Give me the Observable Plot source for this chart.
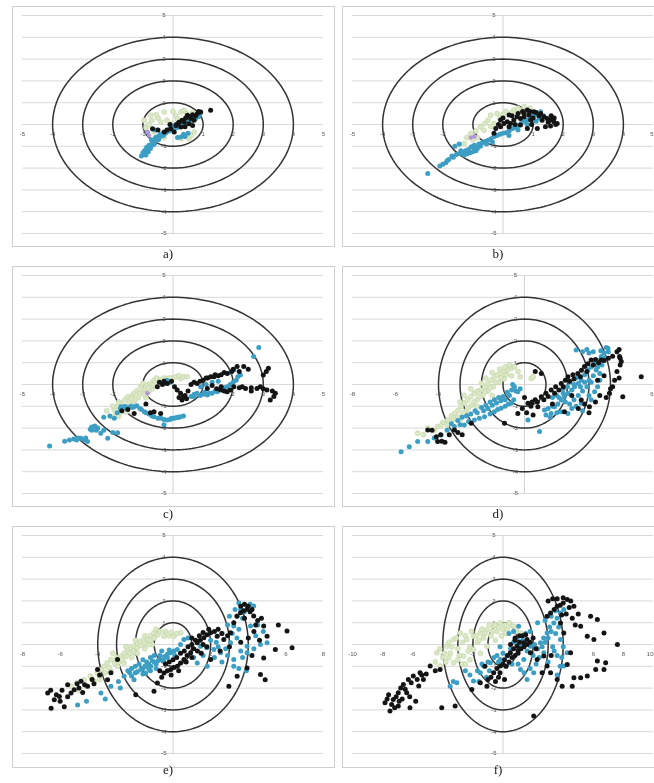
<!DOCTYPE html>
<html><head><meta charset="utf-8">
<script src="https://cdn.jsdelivr.net/npm/d3@7"></script>
<script src="https://cdn.jsdelivr.net/npm/@observablehq/plot@0.6"></script>
<style>
html,body{margin:0;padding:0;background:#fff;overflow:hidden}
#wrap{position:relative;width:654px;height:783px;overflow:hidden;background:#fff}
.panel{position:absolute;will-change:transform}
</style></head><body><div id="wrap"></div>
<script>
// ---------- data (in axis units) ----------
const captions = ["a)", "b)", "c)", "d)", "e)", "f)"];
const rings = [1, 2, 3, 4];
const yGrid = [5, 4, 3, 2, 1, 0, -1, -2, -3, -4, -5];
const yLabels = [5, 4, 3, 2, 1, -1, -2, -3, -4, -5];
const xLabels5 = [-5, -4, -3, -2, -1, 1, 2, 3, 4, 5];
const xLabelsD = [-8, -6, -4, -2, 2, 4, 6];
const xLabelsE = [-8, -6, -4, -2, 2, 4, 6, 8];
const xLabelsF = [-10, -8, -6, -4, -2, 2, 4, 6, 8, 10];

const aGreen = [[-0.96,0.19],[-0.74,0.42],[-0.29,0.57],[0.26,0.57],[0.37,0.65],[-0.02,0.04],[-0.63,-0.34],[0.26,-0.65],[0.53,-0.65],[0.7,-0.34],[-0.4,0.11],[-0.9,-0.15],[-0.5,0.3],[0.1,0.4],[-0.7,0.2],[-0.55,0.45],[-0.2,0.2],[0.15,0.25],[0.45,0.5],[0.6,-0.5],[-0.3,-0.6],[-0.8,0.0],[0.0,0.6],[0.65,0.55]];
const aTeal = [[-1.05,-1.45],[-0.98,-1.38],[-0.92,-1.3],[-0.95,-1.2],[-0.85,-1.15],[-0.88,-1.05],[-0.8,-0.95],[-0.75,-1.1],[-0.7,-0.9],[-0.65,-0.8],[-0.72,-0.7],[-0.6,-0.72],[-0.55,-0.65],[-0.5,-0.55],[-0.45,-0.6],[-0.4,-0.5],[-0.35,-0.42],[-0.3,-0.35],[-0.25,-0.4],[-0.2,-0.3],[-0.15,-0.25],[-0.1,-0.2],[-0.05,-0.15],[0.0,-0.1],[0.05,-0.05],[0.1,0.0],[0.15,-0.1],[0.2,0.05],[0.3,0.1],[0.35,0.05],[0.4,0.15],[0.5,0.2],[0.55,0.25],[0.6,0.3],[0.7,0.35],[0.8,0.45],[0.9,0.52],[0.26,-0.57],[0.35,-0.45],[0.15,-0.6],[-0.85,-0.35],[-0.6,-0.25],[-1.0,-1.3],[-0.9,-1.4],[-0.82,-1.25],[-0.78,-1.0],[-0.68,-0.95],[-0.62,-0.9],[-0.58,-0.6],[-0.48,-0.7],[-0.42,-0.45],[-0.32,-0.5],[-0.22,-0.35],[-0.12,-0.3],[0.0,-0.25],[0.12,-0.15],[0.25,-0.05],[0.45,0.05],[0.62,0.18],[0.75,0.28],[0.85,0.35],[0.4,-0.55],[0.5,-0.4]];
const aBlack = [[-0.68,-0.19],[-0.07,-0.19],[0.15,0.04],[0.26,-0.11],[0.37,0.11],[0.48,0.42],[0.59,0.27],[0.7,0.19],[0.81,0.5],[0.92,0.57],[1.25,0.65],[0.53,0.04],[0.65,-0.05],[0.04,-0.34],[-0.29,-0.34],[0.3,0.2],[0.42,0.3],[0.55,0.35],[0.65,0.45],[0.75,0.4],[0.85,0.6],[0.2,0.1],[0.1,-0.05],[-0.1,0.0],[0.4,-0.1],[-0.5,-0.25],[-0.2,-0.25]];
const aOther = [[-0.79,-0.5],[-0.85,-0.34]];

const bGreen = [[-1.07,-0.41],[-0.63,-0.26],[-0.41,0.43],[-0.3,0.05],[0.36,0.66],[0.7,0.81],[-0.85,-0.6],[-1.29,-0.87],[-0.5,0.2],[-0.2,0.5],[0.1,0.6],[0.5,0.75],[0.9,0.75],[-0.75,-0.1],[-1.0,-0.7],[-1.5,-0.95],[0.2,-0.3],[0.45,-0.1],[-0.6,0.05],[-0.4,-0.1],[-0.1,0.3],[0.0,0.45],[0.3,0.55],[-0.9,-0.3],[-1.2,-0.6],[0.6,0.55]];
const bTeal = [[-2.5,-2.25],[-2.1,-1.9],[-2.0,-1.82],[-1.9,-1.75],[-1.8,-1.6],[-1.65,-1.5],[-1.55,-1.38],[-1.45,-1.33],[-1.35,-1.3],[-1.3,-1.4],[-1.2,-1.35],[-1.1,-1.3],[-1.0,-1.25],[-0.9,-1.2],[-0.85,-1.1],[-1.05,-1.02],[-0.95,-0.95],[-0.8,-0.9],[-0.7,-0.85],[-0.6,-0.78],[-0.5,-0.72],[-0.4,-0.65],[-0.3,-0.55],[-0.2,-0.5],[-0.1,-0.45],[0.0,-0.4],[0.1,-0.38],[0.2,-0.3],[0.3,-0.2],[0.4,-0.15],[0.5,-0.05],[0.6,0.05],[0.7,0.15],[0.8,0.2],[0.9,0.3],[1.0,0.4],[1.1,0.45],[1.25,0.58],[-1.45,-0.9],[-1.6,-1.0],[-1.4,-1.2],[-1.25,-1.2],[-1.15,-1.15],[-0.95,-1.1],[-0.75,-1.0],[-1.7,-1.45],[-1.85,-1.65],[-0.55,-0.9],[-0.35,-0.8],[0.2,-0.5],[0.5,-0.25],[0.8,0.0],[1.1,0.15],[1.2,0.3],[1.35,0.4]];
const bBlack = [[-0.24,-0.18],[-0.08,-0.1],[0.03,0.05],[0.14,0.13],[0.25,0.05],[0.36,0.21],[0.47,0.36],[-0.08,0.21],[0.2,0.44],[0.58,0.28],[0.7,0.51],[0.81,0.67],[0.86,0.44],[0.92,0.21],[1.03,0.59],[1.25,0.51],[1.36,0.36],[1.47,0.28],[1.58,0.21],[1.69,0.13],[1.8,0.05],[1.58,-0.07],[1.41,-0.1],[1.14,-0.18],[0.81,-0.18],[0.58,-0.02],[-0.3,-0.4],[0.0,0.3],[0.3,0.4],[0.5,0.5],[0.65,0.6],[0.9,0.6],[1.1,0.55],[1.2,0.4],[1.3,0.2],[1.5,0.1],[1.7,0.3],[1.75,0.0],[1.6,0.4],[0.4,0.0],[0.2,-0.1],[0.95,0.0],[1.0,0.3],[0.7,0.35],[-0.15,0.0]];
const bOther = [[-1.07,-0.6],[-0.95,-0.55]];

const cGreen = [[-2.06,-1.48],[-1.95,-1.17],[-1.85,-1.0],[-1.73,-0.86],[-1.65,-1.1],[-1.6,-0.7],[-1.51,-0.56],[-1.45,-0.8],[-1.35,-0.5],[-1.29,-0.4],[-1.2,-0.3],[-1.15,-0.6],[-1.07,-0.1],[-1.0,-0.35],[-0.95,-0.2],[-0.85,-0.02],[-0.75,0.05],[-0.7,-0.2],[-0.63,0.2],[-0.5,0.15],[-0.4,0.22],[-0.3,0.3],[-0.19,0.28],[0.0,0.3],[0.1,0.35],[0.25,0.28],[0.35,0.35],[0.47,0.36],[-1.9,-1.35],[-1.8,-1.45],[-2.2,-1.2],[-1.55,-1.25],[-1.3,-0.9],[-0.9,-0.6],[-1.7,-1.25],[-1.5,-0.95],[-1.4,-0.65],[-1.25,-0.7],[-1.1,-0.4],[-0.95,-0.45],[-0.8,-0.3],[-0.65,-0.05],[-0.55,0.3],[-0.3,0.15],[-0.1,0.3],[0.2,0.4],[-2.0,-1.0],[-1.8,-0.8],[-1.0,0.05],[-0.45,0.0]];
const cTeal = [[-4.1,-2.82],[-3.6,-2.6],[-3.44,-2.55],[-3.3,-2.5],[-3.15,-2.45],[-3.06,-2.47],[-2.95,-2.55],[-2.84,-2.62],[-2.75,-2.05],[-2.7,-1.95],[-2.6,-1.9],[-2.5,-2.0],[-2.4,-2.24],[-2.3,-2.1],[-2.17,-2.47],[-2.0,-2.2],[-1.84,-2.21],[-2.3,-1.5],[-2.1,-1.45],[-1.95,-1.55],[-1.85,-1.3],[-1.73,-1.02],[-1.6,-1.0],[-1.5,-1.05],[-1.4,-1.0],[-1.29,-1.02],[-1.2,-0.98],[-1.1,-1.1],[-0.9,-1.3],[-0.8,-1.35],[-0.7,-1.45],[-0.63,-1.48],[-0.4,-1.55],[-0.3,-1.6],[-0.19,-1.63],[-0.1,-1.6],[0.03,-1.55],[0.1,-1.52],[0.2,-1.5],[0.25,-1.48],[0.35,-1.45],[-0.3,-1.85],[0.6,-0.55],[0.7,-0.45],[0.8,-0.4],[0.9,-0.5],[1.0,-0.45],[1.14,-0.48],[1.3,-0.4],[1.47,-0.33],[1.6,-0.2],[1.8,-0.1],[1.9,0.0],[2.0,0.1],[2.1,0.2],[2.24,0.44],[2.02,0.66],[0.92,-0.1],[1.1,0.0],[1.3,0.1],[1.5,0.15],[2.68,1.28],[2.85,1.7],[-0.3,0.05],[-0.1,0.1],[-0.2,0.2],[-2.7,-2.1],[-2.55,-2.1],[-2.9,-2.45],[-3.2,-2.55],[-1.75,-1.1],[-1.55,-1.1],[-1.35,-1.05],[-0.5,-1.55],[-0.05,-1.55],[0.15,-1.5],[0.7,-0.55],[1.05,-0.35],[1.2,-0.4],[1.4,-0.3],[1.7,-0.15],[2.15,0.35],[1.9,0.55],[-1.05,-1.15],[-0.95,-1.25]];
const cBlack = [[-1.29,-1.33],[-0.75,-1.3],[-0.63,-1.25],[-0.41,-1.33],[-0.52,-0.1],[-0.35,0.0],[-0.19,0.05],[-0.05,0.15],[0.05,-0.1],[0.14,-0.25],[0.25,-0.4],[0.3,-0.71],[0.2,-0.6],[0.4,-0.5],[0.5,-0.3],[0.6,0.0],[0.7,0.1],[0.8,0.05],[0.9,0.15],[1.0,0.2],[1.15,0.3],[1.25,0.35],[1.36,0.36],[1.5,0.4],[1.6,0.45],[1.8,0.51],[1.95,0.6],[2.13,0.82],[2.35,0.82],[2.2,0.6],[1.3,-0.05],[1.45,-0.2],[1.58,-0.25],[1.7,-0.3],[1.8,-0.33],[1.9,-0.25],[2.02,-0.1],[2.2,-0.15],[2.41,-0.18],[2.6,-0.15],[2.79,-0.18],[3.0,-0.2],[3.12,-0.25],[3.23,-0.71],[3.3,-0.3],[3.4,-0.4],[3.17,0.74],[3.0,0.44],[1.14,-0.18],[-1.7,-1.2],[-1.5,-1.15],[-0.9,-0.9],[-0.45,0.1],[-0.3,0.15],[0.35,-0.55],[0.45,-0.65],[1.1,0.3],[1.4,0.45],[1.7,0.55],[2.0,0.7],[2.5,0.7],[1.6,-0.1],[2.3,-0.1],[2.6,-0.3],[2.9,-0.1],[3.35,-0.55],[3.1,0.6]];
const cOther = [[-0.85,-0.4]];

const dGreen = [[-4.97,-2.24],[-4.5,-2.0],[-4.04,-1.93],[-3.8,-1.75],[-3.57,-1.63],[-3.4,-1.45],[-3.26,-1.33],[-3.1,-1.2],[-2.95,-1.02],[-2.8,-0.85],[-2.64,-0.71],[-2.5,-0.55],[-2.33,-0.4],[-2.2,-0.3],[-2.02,-0.25],[-1.85,-0.1],[-1.71,0.05],[-1.55,0.2],[-1.4,0.36],[-1.25,0.45],[-1.09,0.51],[-0.95,0.6],[-0.78,0.66],[-0.6,0.75],[-0.47,0.82],[-0.6,0.4],[0.31,0.28],[0.4,0.35],[-2.7,-1.2],[-2.45,-0.95],[-2.2,-0.7],[-1.95,-0.5],[-1.7,-0.3],[-1.45,-0.1],[-1.2,0.1],[-0.95,0.25],[-2.95,-1.48],[-3.0,-1.7],[-2.2,-1.0],[-1.5,-0.5],[-4.7,-2.3],[-4.2,-2.1],[-3.9,-1.9],[-3.6,-1.85],[-3.3,-1.6],[-3.1,-1.5],[-2.85,-1.3],[-2.6,-1.05],[-2.35,-0.8],[-2.1,-0.55],[-1.85,-0.35],[-1.6,-0.15],[-1.35,0.1],[-1.1,0.3],[-0.85,0.45],[-0.7,0.9],[-0.9,0.8],[-1.15,0.7],[-1.5,0.55],[-1.8,0.3],[-2.0,0.05],[-2.5,-0.2],[-2.8,-0.5],[-3.0,-0.8],[-0.3,0.6],[-0.2,0.35]];
const dTeal = [[-5.74,-3.08],[-5.36,-2.85],[-4.97,-2.62],[-4.5,-2.62],[-4.2,-2.45],[-3.88,-2.32],[-3.6,-2.1],[-3.26,-1.93],[-3.0,-1.85],[-2.8,-1.86],[-2.6,-1.7],[-2.33,-1.63],[-2.1,-1.55],[-1.86,-1.48],[-1.6,-1.35],[-1.4,-1.25],[-1.25,-1.15],[-1.09,-1.09],[-0.9,-1.0],[-0.75,-0.9],[-0.62,-0.86],[-0.5,-0.7],[-2.2,-1.3],[-1.9,-1.2],[-1.7,-1.1],[-1.5,-0.95],[-1.3,-0.85],[-1.1,-0.75],[-0.9,-0.7],[-0.7,-0.5],[-0.47,-0.1],[-0.31,-0.33],[-0.2,-0.2],[0.16,-1.63],[0.7,-2.16],[0.93,-1.17],[1.1,-1.1],[1.24,-1.33],[1.4,-1.02],[1.55,-0.9],[1.71,-0.71],[1.85,-0.55],[2.02,-0.4],[2.2,-0.25],[2.33,-0.1],[2.5,0.05],[2.64,0.2],[2.8,0.45],[2.95,0.66],[3.1,0.8],[3.26,0.97],[3.4,1.1],[3.57,1.28],[3.7,1.45],[3.88,1.66],[2.4,1.58],[2.7,1.5],[3.0,1.45],[3.33,0.66],[3.5,0.5],[3.26,-0.33],[3.0,-0.5],[2.64,-0.86],[2.4,-1.0],[2.02,-1.33],[1.7,-1.25],[1.5,-0.5],[1.8,-0.2],[2.1,0.1],[2.4,0.3],[1.3,-0.6],[2.8,0.1],[3.0,0.2],[-3.4,-1.8],[-3.1,-1.65],[-2.9,-1.5],[-2.7,-1.45],[-2.5,-1.35],[-2.3,-1.2],[-2.0,-1.05],[-1.8,-0.95],[-1.6,-0.8],[-1.4,-0.7],[-1.2,-0.6],[-1.0,-0.55],[-0.8,-0.35],[-0.6,-0.25],[-0.4,-0.3],[-0.55,0.0],[1.0,-1.4],[1.2,-1.5],[1.5,-1.3],[1.3,-1.0],[1.6,-0.6],[1.9,-0.8],[2.1,-0.9],[2.3,-0.7],[2.5,-0.5],[2.7,-0.3],[2.9,-0.1],[3.1,0.1],[3.2,0.4],[3.4,0.8],[3.6,0.9],[3.75,1.2],[3.9,1.5],[2.6,-0.1],[2.3,0.0],[2.0,-0.1],[1.8,-0.4],[2.2,-1.1],[2.7,-1.2],[3.1,-0.7],[3.4,-0.1],[3.5,0.2],[2.9,1.6],[3.2,1.5],[3.55,1.55],[3.8,1.7]];
const dBlack = [[-4.5,-2.09],[-4.3,-2.1],[-4.04,-2.62],[-3.85,-2.6],[-3.7,-2.65],[-3.26,-2.09],[-3.1,-2.2],[-2.9,-2.3],[-2.48,-1.78],[-0.93,-1.78],[-0.31,-1.33],[-0.1,-1.1],[0.16,-0.86],[0.35,-0.8],[0.62,-1.02],[0.5,-0.7],[0.78,-0.56],[1.0,-0.4],[1.24,-0.25],[1.45,-0.1],[1.71,0.05],[1.9,0.2],[2.02,0.36],[2.25,0.45],[2.48,0.51],[2.65,0.65],[2.79,0.82],[2.95,0.95],[3.1,1.12],[3.3,1.15],[3.57,1.12],[4.42,1.28],[4.5,1.05],[4.45,0.9],[4.19,0.2],[3.95,-0.4],[4.0,-0.2],[4.57,-0.56],[5.43,0.36],[2.64,-0.71],[2.8,-0.9],[3.02,-1.02],[1.86,-1.25],[0.78,0.51],[0.5,0.6],[1.3,-0.9],[0.0,-0.6],[3.4,0.2],[3.7,0.4],[2.2,-0.5],[0.3,-1.0],[0.6,-0.8],[0.9,-0.7],[1.1,-0.55],[1.4,-0.4],[1.6,-0.25],[1.8,-0.1],[2.1,0.15],[2.3,0.25],[2.6,0.35],[2.9,0.6],[3.2,0.9],[3.45,1.0],[3.7,1.1],[3.9,1.2],[4.1,1.3],[4.3,1.5],[4.4,1.6],[4.45,1.2],[4.3,0.6],[4.4,0.3],[4.1,-0.1],[3.8,-0.6],[3.5,-0.5],[3.3,-0.8],[3.0,-1.3],[2.5,-1.1],[0.1,-1.3],[0.4,-1.4],[-3.5,-2.3],[-3.9,-2.3],[-4.1,-2.4]];

const eGreen = [[-5.42,-1.92],[-5.1,-1.75],[-4.72,-1.62],[-4.4,-1.45],[-4.01,-1.31],[-3.8,-1.15],[-3.66,-1.0],[-3.5,-0.85],[-3.3,-0.69],[-3.0,-0.6],[-2.77,-0.54],[-2.6,-0.4],[-2.42,-0.23],[-2.25,-0.15],[-2.07,-0.08],[-1.9,0.05],[-1.71,0.15],[-1.55,0.2],[-1.36,0.23],[-1.2,0.4],[-1.01,0.54],[-0.8,0.45],[-0.48,0.38],[-0.2,0.4],[0.05,0.38],[0.41,0.54],[-2.95,-1.0],[-3.3,-1.2],[-2.6,-0.85],[-2.2,-0.6],[-1.9,-0.4],[-1.5,-0.2],[-1.1,0.0],[-4.2,-1.7],[-3.9,-1.5],[-5.0,-2.1],[-4.6,-1.9],[-4.3,-1.6],[-3.9,-1.6],[-3.6,-1.3],[-3.4,-1.05],[-3.1,-0.85],[-2.9,-0.8],[-2.7,-0.7],[-2.5,-0.55],[-2.3,-0.4],[-2.1,-0.3],[-1.9,-0.15],[-1.7,-0.05],[-1.5,0.05],[-1.3,0.0],[-1.2,0.2],[-1.0,0.3],[-0.9,0.7],[-0.7,0.6],[-0.4,0.6],[-0.1,0.55],[0.2,0.5],[-1.5,0.4],[-2.0,0.2],[-2.5,-0.1],[-3.2,-0.4]];
const eTeal = [[-5.07,-2.77],[-4.6,-2.6],[-3.83,-2.23],[-3.3,-1.92],[-2.9,-1.7],[-2.6,-1.46],[-2.3,-1.3],[-2.07,-1.62],[-1.9,-1.25],[-1.71,-1.15],[-1.5,-1.0],[-1.3,-0.9],[-1.18,-1.0],[-1.0,-0.8],[-0.8,-0.75],[-0.65,-0.69],[-0.45,-0.55],[-0.3,-0.45],[-0.12,-0.38],[0.05,-0.3],[0.23,-0.23],[0.4,0.0],[0.58,0.23],[0.8,0.3],[-1.45,-1.31],[-1.2,-1.2],[-0.9,-1.1],[-2.0,-1.0],[-1.6,-0.7],[-1.2,-0.6],[1.47,-0.08],[1.8,-0.15],[2.17,-0.23],[2.53,-0.38],[2.8,-0.2],[3.06,0.08],[3.15,0.5],[3.23,0.85],[3.41,1.31],[3.6,1.6],[3.94,1.77],[4.1,1.85],[4.29,1.77],[4.12,0.85],[3.94,-0.08],[3.94,-0.38],[3.23,-0.69],[3.23,-1.0],[4.65,0.0],[5.0,0.08],[1.82,-1.0],[1.29,-0.85],[2.2,-0.6],[2.6,-0.8],[4.4,0.4],[3.6,-0.3],[-2.4,-1.2],[-2.2,-1.1],[-2.0,-1.3],[-1.8,-0.9],[-1.6,-1.1],[-1.4,-0.8],[-1.3,-1.1],[-1.1,-0.75],[-0.9,-0.9],[-0.7,-0.5],[-0.5,-0.75],[-0.3,-0.6],[-0.2,-0.25],[0.1,-0.5],[-0.6,-0.3],[-1.0,-0.5],[-1.6,-1.35],[-2.2,-1.45],[-3.6,-2.5],[-2.8,-2.0],[2.0,0.2],[2.3,0.1],[2.6,0.5],[2.9,0.9],[3.0,1.3],[3.3,1.6],[3.5,1.9],[3.8,1.5],[3.7,1.2],[3.5,0.7],[3.4,0.3],[3.7,-0.6],[3.5,-1.1],[3.9,-1.2],[4.3,-0.2],[4.5,0.9],[4.8,0.6],[2.9,-0.5],[2.4,-0.1],[1.6,-0.5],[1.1,-0.6]];
const eBlack = [[-6.66,-2.23],[-6.5,-2.1],[-6.31,-2.54],[-6.48,-2.92],[-6.2,-2.3],[-6.04,-2.38],[-5.9,-2.1],[-5.78,-2.85],[-5.6,-1.85],[-5.42,-2.23],[-5.25,-2.08],[-5.1,-1.8],[-4.89,-1.69],[-4.7,-1.85],[-4.54,-1.92],[-4.3,-1.6],[-4.01,-1.15],[-3.48,-1.62],[-3.3,-1.3],[-2.95,-0.69],[-1.98,-2.31],[-1.01,-2.15],[-0.83,-1.77],[-0.6,-1.5],[-0.48,-1.31],[-0.3,-1.2],[-0.12,-1.15],[0.05,-1.05],[0.23,-1.0],[0.4,-0.85],[0.58,-0.69],[0.75,-0.5],[0.94,-0.38],[1.1,-0.2],[1.29,0.08],[1.45,0.2],[1.64,0.31],[1.8,0.45],[2.0,0.54],[2.35,0.38],[2.7,0.23],[3.06,0.54],[3.23,1.0],[3.4,1.3],[3.59,1.46],[3.75,1.55],[3.94,1.62],[4.1,1.5],[4.29,1.31],[4.5,1.1],[4.82,0.85],[5.0,0.38],[5.44,-0.23],[6.06,0.62],[6.33,-0.15],[4.82,-0.62],[4.65,-1.38],[4.9,-1.62],[3.94,-1.08],[3.41,-1.46],[2.97,-1.92],[2.0,-0.69],[1.5,-0.4],[2.5,-0.3],[3.0,-0.1],[3.6,0.1],[4.0,0.3],[4.3,0.6],[4.6,0.2],[4.2,-0.5],[1.0,0.3],[1.8,-0.1],[-0.7,-1.2],[-0.4,-0.9],[-0.2,-0.8],[0.0,-0.7],[0.2,-0.6],[0.4,-0.4],[0.6,-0.3],[0.8,-0.1],[1.0,0.0],[1.2,0.2],[1.4,0.4],[1.6,0.55],[1.9,0.7],[2.2,0.6],[2.4,0.7],[2.6,0.5],[2.9,0.4],[1.6,0.0],[1.3,-0.3],[1.0,-0.6],[0.7,-0.8],[0.3,-1.2],[-0.1,-1.4],[3.6,1.75],[3.8,1.85],[4.0,1.75],[4.2,1.6],[3.8,1.2],[4.4,0.9],[4.7,1.2],[5.6,0.9],[-6.0,-2.6],[-5.6,-2.4],[-5.0,-2.0],[-4.8,-2.2],[-4.2,-1.8],[-3.9,-1.4]];

const fGreen = [[-4.4,-0.38],[-4.18,-0.99],[-4.0,-0.6],[-3.73,-0.08],[-3.5,-0.4],[-3.29,0.23],[-3.29,-0.84],[-3.0,-0.2],[-2.84,0.53],[-2.62,-0.53],[-2.4,0.23],[-2.2,-0.1],[-1.96,0.38],[-1.96,-0.23],[-1.7,0.1],[-1.51,0.53],[-1.3,0.3],[-1.07,0.69],[-1.07,-0.08],[-0.8,0.4],[-0.62,0.84],[-0.4,0.6],[-0.18,0.99],[0.0,0.7],[0.27,0.69],[0.5,0.9],[0.71,0.84],[0.9,0.6],[1.16,0.53],[-2.7,-0.9],[-2.2,-0.7],[-1.5,-0.4],[-3.8,-0.8],[-0.5,0.2],[-4.2,-0.2],[-3.9,-0.4],[-3.6,0.1],[-3.4,-0.1],[-3.1,0.3],[-2.9,-0.5],[-2.7,0.1],[-2.5,0.4],[-2.3,-0.3],[-2.1,0.6],[-1.8,0.4],[-1.6,0.2],[-1.4,0.7],[-1.2,0.5],[-0.9,0.9],[-0.7,0.6],[-0.5,0.9],[-0.3,0.8],[0.1,0.9],[0.4,1.0],[0.2,0.5],[-0.1,0.4],[-2.5,-0.9],[-3.0,-0.7],[-3.6,-0.6],[-4.5,-0.8]];
const fTeal = [[-3.51,-1.91],[-3.3,-1.7],[-3.07,-1.76],[-2.5,-1.2],[-1.96,-1.68],[-1.7,-1.2],[-1.51,-1.3],[-1.4,-0.9],[-1.29,-0.99],[-1.0,-0.8],[-0.84,-0.84],[-0.6,-0.6],[-0.4,-0.5],[-0.18,-0.69],[0.0,-0.4],[0.27,-0.53],[0.5,-0.2],[0.7,0.1],[0.93,0.23],[1.04,0.84],[1.2,-0.1],[1.38,-0.69],[1.6,-0.3],[1.82,-0.08],[2.1,0.0],[2.3,-0.2],[2.49,0.08],[2.7,0.3],[2.93,0.53],[3.1,0.8],[3.38,0.99],[3.6,1.2],[3.82,1.45],[4.04,1.6],[3.82,0.23],[4.0,-0.1],[4.27,-0.38],[4.04,-0.99],[3.9,-0.6],[2.04,-1.3],[1.6,-1.6],[1.16,-1.15],[2.71,-0.38],[3.4,-0.3],[3.0,-0.8],[0.4,0.5],[0.7,0.6],[-0.2,-0.1],[1.0,0.0],[1.3,0.2],[1.5,0.5],[1.8,0.6],[2.0,-0.5],[2.2,-0.9],[2.4,-0.6],[2.6,-0.1],[2.8,0.1],[3.0,0.3],[3.2,0.6],[3.3,-0.1],[3.5,0.5],[3.7,0.8],[3.6,-0.5],[3.8,-1.0],[3.6,-1.4],[1.8,-1.1],[1.4,-1.3],[1.0,-0.9],[0.6,-0.9],[0.2,-1.0],[-0.3,-0.8],[-0.9,-1.2],[-1.1,-1.5],[-1.6,-1.7],[-2.2,-1.4],[2.3,1.0],[2.8,1.1],[3.2,1.3],[3.5,1.55]];
const fBlack = [[-7.84,-2.67],[-7.7,-2.5],[-7.51,-3.05],[-7.4,-2.75],[-7.29,-2.52],[-7.1,-2.4],[-6.96,-2.21],[-6.96,-2.82],[-6.8,-2.0],[-6.62,-1.83],[-6.5,-2.05],[-6.4,-2.21],[-6.29,-1.6],[-6.18,-2.9],[-6.1,-1.75],[-5.96,-1.45],[-5.8,-2.6],[-5.7,-1.6],[-5.51,-1.3],[-5.29,-1.6],[-5.1,-1.35],[-4.84,-0.99],[-4.5,-1.2],[-4.18,-1.15],[-4.07,-2.9],[-3.18,-2.82],[-2.07,-2.06],[-1.51,-1.76],[-1.07,-1.91],[-0.8,-1.5],[-0.62,-1.3],[-0.4,-1.1],[-0.18,-0.99],[0.1,-0.7],[0.3,-0.5],[0.49,-0.38],[0.7,-0.2],[0.93,-0.08],[1.1,0.1],[1.38,0.08],[1.6,0.23],[1.82,-0.38],[2.04,-3.28],[2.27,-0.69],[2.71,-0.53],[2.93,-0.99],[3.16,-1.3],[3.6,-1.6],[3.93,-1.91],[4.27,-0.92],[4.49,-0.38],[4.6,-1.91],[4.71,-1.53],[5.16,-1.53],[5.6,-1.45],[6.16,-1.15],[6.27,-0.76],[6.71,-1.15],[6.82,-0.84],[7.6,0.0],[5.82,1.3],[6.27,1.15],[5.16,0.84],[5.6,0.38],[6.04,0.23],[6.71,0.53],[4.71,1.76],[4.5,2.0],[4.27,2.06],[4.0,1.9],[3.8,1.8],[3.6,1.76],[3.4,1.6],[3.16,1.45],[2.93,1.3],[3.82,0.99],[4.04,0.53],[1.3,0.4],[0.8,0.3],[1.0,-0.3],[-0.3,-1.5],[-1.2,-1.0],[0.0,-0.9],[0.2,-1.0],[0.4,-0.8],[0.6,-0.6],[0.8,-0.5],[1.0,-0.4],[1.2,-0.2],[1.4,-0.1],[1.6,0.0],[1.8,0.1],[2.0,0.3],[0.5,0.0],[0.8,0.2],[1.1,0.4],[1.5,0.45],[-0.5,-1.7],[-0.2,-1.3],[0.1,-1.6],[-1.0,-1.6],[2.2,-0.2],[3.0,2.0],[3.3,2.1],[3.6,2.1],[4.0,2.15],[4.4,1.7],[4.2,1.4],[3.9,1.35],[4.6,1.2],[5.0,1.4],[4.8,0.9],[2.6,-1.3],[3.2,-0.5],[-7.2,-2.9],[-6.7,-2.5],[-6.2,-2.4],[-5.6,-1.9],[-5.4,-1.4],[-6.9,-2.6],[-7.6,-2.3]];

// ---------- layout ----------
const panels = [
  {cap: captions[0], xd: [-5, 5], xl: xLabels5, g: aGreen, t: aTeal, k: aBlack, o: aOther, left: 12, top: 6, capDy: 24, right: false},
  {cap: captions[1], xd: [-5, 5], xl: xLabels5, g: bGreen, t: bTeal, k: bBlack, o: bOther, left: 342, top: 6, capDy: 24, right: true},
  {cap: captions[2], xd: [-5, 5], xl: xLabels5, g: cGreen, t: cTeal, k: cBlack, o: cOther, left: 12, top: 266, capDy: 24, right: false},
  {cap: captions[3], xd: [-8, 6], xl: xLabelsD, g: dGreen, t: dTeal, k: dBlack, o: [], left: 342, top: 266, capDy: 24, right: true},
  {cap: captions[4], xd: [-8, 8], xl: xLabelsE, g: eGreen, t: eTeal, k: eBlack, o: [], left: 12, top: 526, capDy: 20, right: false},
  {cap: captions[5], xd: [-10, 10], xl: xLabelsF, g: fGreen, t: fTeal, k: fBlack, o: [], left: 342, top: 526, capDy: 20, right: true}
];

const ringPts = [];
for (const r of rings) {
  for (let i = 0; i <= 180; i++) {
    const a = (i / 180) * 2 * Math.PI;
    ringPts.push({r, x: r * Math.cos(a), y: r * Math.sin(a)});
  }
}

const tickStyle = {fontSize: 6, fill: "#555", fontFamily: "Liberation Sans"};
const wrap = document.getElementById("wrap");
for (const p of panels) {
  const bottomInset = p.top === 526 ? -14 : -13;
  const edge = p.right ? p.xd[1] : null;
  const xlMain = p.xl.filter(d => d !== edge);
  const xlEdge = p.xl.filter(d => d === edge);
  const chart = Plot.plot({
    width: 322, height: 262,
    marginLeft: 10, marginRight: 11, marginTop: 9, marginBottom: 35,
    x: {domain: p.xd, axis: null},
    y: {domain: [-5, 5], axis: null},
    style: {background: "transparent", overflow: "visible"},
    marks: [
      Plot.frame({stroke: "#cfcfcf", insetTop: -9, insetLeft: -10, insetRight: -11, insetBottom: bottomInset}),
      Plot.ruleY(yGrid, {stroke: "#d9d9d9", strokeWidth: 1}),
      Plot.ruleX([0], {stroke: "#d2d2d2", strokeWidth: 1}),
      Plot.line(ringPts, {x: "x", y: "y", z: "r", stroke: "#333", strokeWidth: 1.5}),
      Plot.text(yLabels, {x: 0, y: d => d, text: d => String(d), dx: -9, ...tickStyle}),
      Plot.text(xlMain, {x: d => d, y: 0, text: d => String(d), dy: 10, ...tickStyle}),
      Plot.text(xlEdge, {x: d => d, y: 0, text: d => String(d), dy: 10, textAnchor: "end", dx: 0, ...tickStyle}),
      Plot.dot(p.g, {x: d => d[0], y: d => d[1], r: 2.5, fill: "#dbe8c6", stroke: "#c2d4a6", strokeWidth: 0.6}),
      Plot.dot(p.t, {x: d => d[0], y: d => d[1], r: 2.5, fill: "#3d9ec4"}),
      Plot.dot(p.o, {x: d => d[0], y: d => d[1], r: 2.2, fill: "#b795d6"}),
      Plot.dot(p.k, {x: d => d[0], y: d => d[1], r: 2.5, fill: "#141414"}),
      Plot.text([p.cap], {frameAnchor: "bottom", dy: p.capDy, dx: -5, fontSize: 13, fill: "#222", fontFamily: "Liberation Serif"})
    ]
  });
  chart.classList.add("panel");
  chart.style.left = p.left + "px";
  chart.style.top = p.top + "px";
  wrap.appendChild(chart);
}
</script></body></html>
